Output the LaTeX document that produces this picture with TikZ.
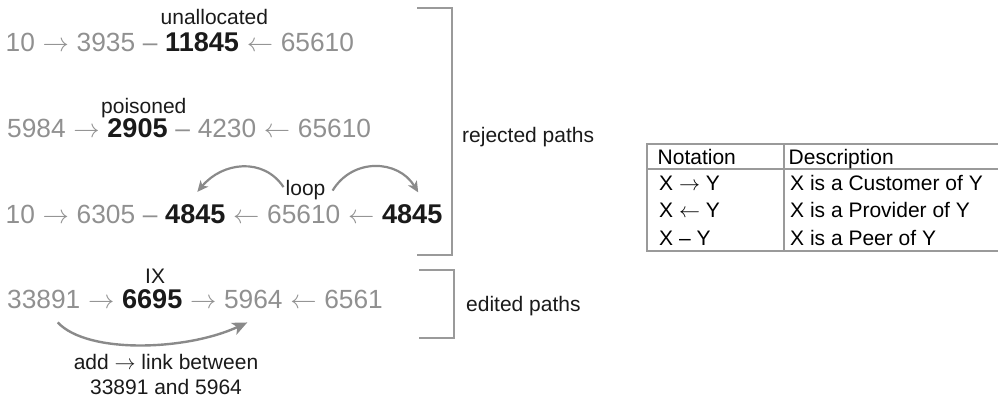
\documentclass[tikz,border=0pt]{standalone}
\usepackage{fix-cm}
\usepackage{fontspec}
\setmainfont{Liberation Sans}
\usetikzlibrary{arrows.meta}
\definecolor{asgrey}{HTML}{909090}
\definecolor{ink}{HTML}{1A1A1A}
\definecolor{rule}{HTML}{9A9A9A}
\definecolor{curve}{HTML}{8A8A8A}
% relationship symbols between two AS numbers (with a word space on each side)
\newcommand{\custof}{\ $\rightarrow$\ \null}
\newcommand{\provof}{\ $\leftarrow$\ \null}
\newcommand{\peerof}{\ –\ \null}
\tikzset{
  asn/.style={anchor=base west, inner sep=0pt, text=asgrey, font=\fontsize{26.3}{30}\selectfont},
  asb/.style={anchor=base west, inner sep=0pt, text=ink, font=\fontsize{27.1}{30}\selectfont\bfseries},
  rel/.style={asn},
  note/.style={anchor=base west, inner sep=0pt, text=ink, font=\fontsize{21}{25}\selectfont},
  cell/.style={anchor=base west, inner sep=0pt, text=black, font=\fontsize{21}{24}\selectfont},
  bracket/.style={draw=rule, line width=2.5pt},
  tablerule/.style={draw=rule, line width=2.5pt},
  curvearrow/.style={draw=curve, line width=2.2pt, -{Stealth[length=11pt,width=10pt,inset=3pt]}},
  bigcurvearrow/.style={draw=curve, line width=2.4pt, -{Stealth[length=15pt,width=13pt,inset=4pt]}},
}
\begin{document}
\begin{tikzpicture}[x=1pt,y=-1pt]
\useasboundingbox (0,0) rectangle (998,398);

% row 1: unallocated AS
\node[asn] (r1a) at (5.5,52) {10};
\node[rel] (r1b) at (r1a.base east) {\custof};
\node[asn] (r1c) at (r1b.base east) {3935};
\node[rel] (r1d) at (r1c.base east) {\peerof};
\node[asb] (r1e) at (r1d.base east) {11845};
\node[rel] (r1f) at (r1e.base east) {\provof};
\node[asn] (r1g) at (r1f.base east) {65610};
\node[note] (n1) at (160.5,24.5) {unallocated};

% row 2: poisoned path
\node[asn] (r2a) at (7,138) {5984};
\node[rel] (r2b) at (r2a.base east) {\custof};
\node[asb] (r2c) at (r2b.base east) {2905};
\node[rel] (r2d) at (r2c.base east) {\peerof};
\node[asn] (r2e) at (r2d.base east) {4230};
\node[rel] (r2f) at (r2e.base east) {\provof};
\node[asn] (r2g) at (r2f.base east) {65610};
\node[note] (n2) at (101,113.5) {poisoned};

% row 3: loop
\node[asn] (r3a) at (5.5,223) {10};
\node[rel] (r3b) at (r3a.base east) {\custof};
\node[asn] (r3c) at (r3b.base east) {6305};
\node[rel] (r3d) at (r3c.base east) {\peerof};
\node[asb] (r3e) at (r3d.base east) {4845};
\node[rel] (r3f) at (r3e.base east) {\provof};
\node[asn] (r3g) at (r3f.base east) {65610};
\node[rel] (r3h) at (r3g.base east) {\provof};
\node[asb] (r3i) at (r3h.base east) {4845};
\node[note] (n3) at (285.5,196) {loop};

\draw[curvearrow] ([xshift=-2pt,yshift=3.5pt]n3.west)
  .. controls +(-20,-30) and +(25,-30) .. ([xshift=2pt,yshift=12pt]r3e.north);
\draw[curvearrow] ([xshift=7pt]n3.east)
  .. controls +(20,-33) and +(-20,-33) .. ([xshift=6pt,yshift=11.5pt]r3i.north);

% row 4: edited path through an IX
\node[asn] (r4a) at (7,308) {33891};
\node[rel] (r4b) at (r4a.base east) {\custof};
\node[asb] (r4c) at (r4b.base east) {6695};
\node[rel] (r4d) at (r4c.base east) {\custof};
\node[asn] (r4e) at (r4d.base east) {5964};
\node[rel] (r4f) at (r4e.base east) {\provof};
\node[asn] (r4g) at (r4f.base east) {6561};
\node[note] (n4) at (145,283) {IX};

\draw[bigcurvearrow] ([xshift=14pt,yshift=-14pt]r4a.south)
  .. controls +(30,32) and +(-60,28) .. ([xshift=-6pt,yshift=-14pt]r4e.south);
\node[note, anchor=north, align=center] (n5) at (166,353.7) {add $\rightarrow$ link between\\33891 and 5964};

% brackets grouping the paths
\draw[bracket] (417,8) -- (452,8) -- (452,255) -- (417,255);
\node[note] (g1) at (462,143) {rejected paths};
\draw[bracket] (419,270) -- (454,270) -- (454,338) -- (419,338);
\node[note] (g2) at (466,311) {edited paths};

% notation table
\draw[tablerule] (647,144) rectangle (1004,251);
\draw[tablerule] (647,169) -- (1004,169);
\draw[tablerule] (784,144) -- (784,251);
\node[cell] (h1) at (657.5,165) {Notation};
\node[cell] (h2) at (788.5,165) {Description};
\node[cell] (c11) at (659,190.5) {X $\rightarrow$ Y};
\node[cell] (c12) at (790,190.5) {X is a Customer of Y};
\node[cell] (c21) at (659,217.5) {X $\leftarrow$ Y};
\node[cell] (c22) at (790,217.5) {X is a Provider of Y};
\node[cell] (c31) at (659,245) {X – Y};
\node[cell] (c32) at (790,245) {X is a Peer of Y};
\end{tikzpicture}
\end{document}
